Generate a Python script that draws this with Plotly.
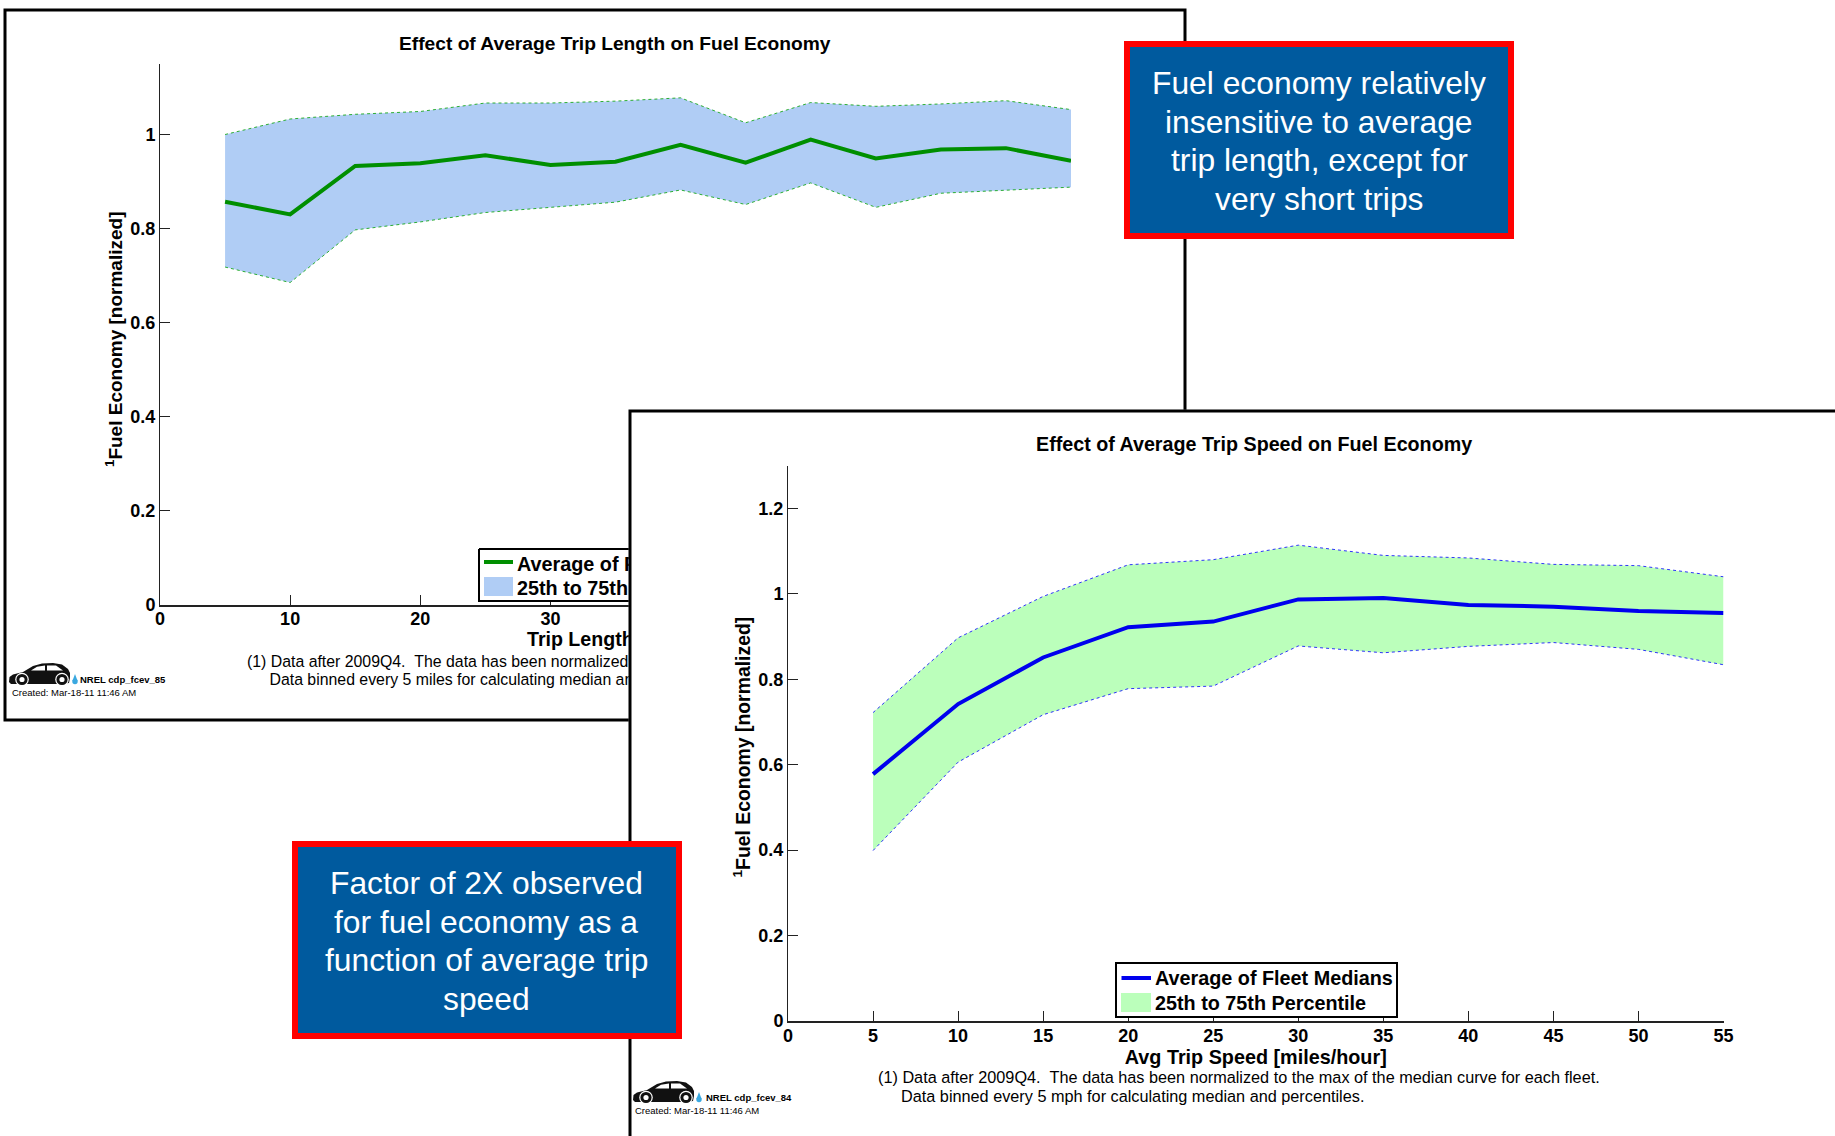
import plotly.graph_objects as go

W, H = 1835, 1136
FONT = "Liberation Sans"

# ---- data -------------------------------------------------------------
length_x = [5, 10, 15, 20, 25, 30, 35, 40, 45, 50, 55, 60, 65, 70]
length_median = [.858, .831, .934, .940, .957, .936, .943, .979, .941, .990, .950, .969, .972, .945]
length_p75 = [1.001, 1.034, 1.044, 1.050, 1.068, 1.068, 1.072, 1.079, 1.026, 1.069, 1.061, 1.066, 1.073, 1.054]
length_p25 = [.719, .686, .798, .815, .835, .846, .857, .883, .852, .898, .846, .876, .883, .889]

speed_x = [5, 10, 15, 20, 25, 30, 35, 40, 45, 50, 55]
speed_median = [.578, .742, .851, .922, .935, .987, .990, .974, .970, .960, .955]
speed_p75 = [.722, .897, .994, 1.068, 1.080, 1.114, 1.090, 1.084, 1.069, 1.066, 1.040]
speed_p25 = [.399, .606, .717, .778, .784, .878, .862, .877, .886, .870, .834]

length_xticks = [0, 10, 20, 30]
length_yticks = [0, 0.2, 0.4, 0.6, 0.8, 1]
speed_xticks = [0, 5, 10, 15, 20, 25, 30, 35, 40, 45, 50, 55]
speed_yticks = [0, 0.2, 0.4, 0.6, 0.8, 1, 1.2]

callout_length = ["Fuel economy relatively", "insensitive to average", "trip length, except for", "very short trips"]
callout_speed = ["Factor of 2X observed", "for fuel economy as a", "function of average trip", "speed"]


# ---- pixel helpers (page layout only) ---------------------------------
def px(x):
    return x / W


def py(y):
    return 1 - y / H


def text(s, x, y, size, bold=False, anchor="left", color="#000000", angle=0):
    if bold:
        s = "<b>" + s + "</b>"
    if anchor == "left":
        x, y = x - 2, y - 1
    return dict(text=s, xref="paper", yref="paper", x=px(x), y=py(y), showarrow=False, textangle=angle,
                xanchor=anchor, yanchor="middle", align=anchor,
                font=dict(family=FONT, size=size, color=color))


def rect(x0, y0, x1, y1, fill, line=None, lw=0, layer="above"):
    return dict(type="rect", xref="paper", yref="paper", x0=px(x0), x1=px(x1), y0=py(y0), y1=py(y1),
                fillcolor=fill, line=dict(color=line or fill, width=lw), layer=layer)


def hline(x0, x1, y, color, lw):
    return dict(type="line", xref="paper", yref="paper", x0=px(x0), x1=px(x1), y0=py(y), y1=py(y),
                line=dict(color=color, width=lw), layer="above")


def poly(points, fill):
    p = "M" + " L".join(f"{px(a):.5f},{py(b):.5f}" for a, b in points) + " Z"
    return dict(type="path", xref="paper", yref="paper", path=p, fillcolor=fill,
                line=dict(color=fill, width=0), layer="above")


def circle(cx, cy, r, fill):
    return dict(type="circle", xref="paper", yref="paper", x0=px(cx - r), x1=px(cx + r),
                y0=py(cy + r), y1=py(cy - r), fillcolor=fill, line=dict(color=fill, width=0), layer="above")


def car(ox, oy):
    body = [(0, 19), (0.5, 14), (4, 11.5), (14, 9), (24, 3), (33, 0.5), (44, 0), (53, 1.5), (59, 6), (61, 10),
            (61, 15), (60, 20), (52, 21), (14, 21), (2, 21)]
    win1 = [(22, 7.5), (28, 3.8), (36, 2.6), (36, 7.5)]
    win2 = [(38, 2.4), (47, 2.6), (54, 7.5), (38, 7.5)]
    drop = [(66, 11), (68.6, 18), (63.4, 18)]
    return [poly([(ox + a, oy + b) for a, b in body], "#111111"),
            poly([(ox + a, oy + b) for a, b in win1], "#ffffff"),
            poly([(ox + a, oy + b) for a, b in win2], "#ffffff"),
            circle(ox + 13, oy + 16.5, 6.8, "#ffffff"), circle(ox + 13, oy + 16.5, 5.6, "#111111"),
            circle(ox + 13, oy + 16.5, 2.6, "#ffffff"),
            circle(ox + 53, oy + 16.5, 6.8, "#ffffff"), circle(ox + 53, oy + 16.5, 5.6, "#111111"),
            circle(ox + 53, oy + 16.5, 2.6, "#ffffff"),
            poly([(ox + a, oy + b) for a, b in drop], "#3aa8e0"), circle(ox + 66, oy + 18.5, 2.7, "#3aa8e0")]


# ---- traces -----------------------------------------------------------
fig = go.Figure()


def band(x, lo, hi, med, edge, fill, main, xa, ya):
    fig.add_trace(go.Scatter(x=x, y=lo, mode="lines", xaxis=xa, yaxis=ya, showlegend=False,
                             line=dict(color=edge, width=0.8, dash="dot")))
    fig.add_trace(go.Scatter(x=x, y=hi, mode="lines", xaxis=xa, yaxis=ya, showlegend=False, fill="tonexty",
                             fillcolor=fill, name="25th to 75th Percentile",
                             line=dict(color=edge, width=0.8, dash="dot")))
    fig.add_trace(go.Scatter(x=x, y=med, mode="lines", xaxis=xa, yaxis=ya, showlegend=False,
                             name="Average of Fleet Medians", line=dict(color=main, width=4)))


def covered_text(s, x, y, size, weight=400):
    """Text in a page-sized subplot under the second chart's sheet, so that the sheet really cuts it off."""
    fig.add_trace(go.Scatter(x=[x], y=[y], mode="text", text=[s], textposition="middle right",
                             cliponaxis=False, showlegend=False, hoverinfo="skip", xaxis="x2", yaxis="y2",
                             textfont=dict(family=FONT, size=size, color="#000000", weight=weight)))


band(length_x, length_p25, length_p75, length_median, "#00a000", "#b0cdf5", "#008f00", "x", "y")
# legend box of the first chart: in the page-sized subplot, running under the second chart's sheet
fig.add_trace(go.Scatter(x=[479, 650, 650, 479, 479], y=[549, 549, 601, 601, 549],
                         mode="lines", fill="toself", fillcolor="#ffffff", line=dict(color="#000000", width=2),
                         showlegend=False, hoverinfo="skip", xaxis="x2", yaxis="y2"))
covered_text("Average of F", 517, 566, 19.8, 700)
covered_text("25th to 75th", 517, 590, 19.8, 700)
covered_text("Trip Length", 527, 641.5, 19.6, 700)
covered_text("(1) Data after 2009Q4.\u00a0\u00a0The data has been normalized", 247, 663, 15.85)
covered_text("Data binned every 5 miles for calculating median an", 269.5, 681, 15.85)
# empty subplot between the two charts: its white sheet hides the lower part of the first chart
fig.add_trace(go.Scatter(x=[None], y=[None], xaxis="x3", yaxis="y3", showlegend=False))
band(speed_x, speed_p25, speed_p75, speed_median, "#0000ff", "#bbffbb", "#0000ee", "x4", "y4")

tickfont = dict(family=FONT, size=18, color="#000000", weight=700)
titlefont = dict(family=FONT, size=19, color="#000000", weight=700)
AX = dict(showgrid=False, zeroline=False, showline=True, ticks="inside", ticklen=10, tickwidth=1,
          tickcolor="#222222", tickfont=tickfont, linecolor="#222222", automargin=False)

shapes = [
    # outer sheet of the first chart
    rect(5, 10, 1185, 720, "#ffffff", "#000000", 3, layer="below"),
    # white sheet of the second chart, drawn in the hidden subplot
    dict(type="rect", xref="x3", yref="y3", x0=0, x1=2, y0=-1, y1=1, fillcolor="#ffffff",
         line=dict(color="#000000", width=6), layer="below"),
    # legend swatches of the first chart
    hline(484, 513, 562, "#008f00", 4),
    rect(484, 577, 513, 596, "#b0cdf5"),
    # legend of the second chart
    rect(1116, 963, 1397, 1017, "#ffffff", "#000000", 2),
    hline(1121.5, 1151, 978, "#0000ee", 4),
    rect(1121, 993, 1151, 1012, "#bbffbb"),
]
shapes += car(9, 663) + car(633, 1081)
shapes += [
    rect(1127, 44, 1511, 236, "#005a9e", "#ff0000", 6),
    rect(295, 844, 679, 1036, "#005a9e", "#ff0000", 6),
]

annotations = [
    text("Effect of Average Trip Length on Fuel Economy", 614.5, 43, 19.2, True, "center"),
    text("Effect of Average Trip Speed on Fuel Economy", 1254, 444, 19.7, True, "center"),
    text("<sup>1</sup>Fuel Economy [normalized]", 114, 339, 19, True, "center", angle=-90),
    text("<sup>1</sup>Fuel Economy [normalized]", 741, 747.5, 19.4, True, "center", angle=-90),
    text("Average of Fleet Medians", 1154.5, 979, 19.8, True),
    text("25th to 75th Percentile", 1154.5, 1004, 19.8, True),
    text("(1) Data after 2009Q4.\u00a0\u00a0The data has been normalized to the max of the median curve for each fleet.",
         878, 1078, 16.25),
    text("Data binned every 5 mph for calculating median and percentiles.", 900.5, 1097, 16.25),
    text("NREL cdp_fcev_85", 79.5, 680, 9.5, True),
    text("Created: Mar-18-11 11:46 AM", 12, 693, 9.5),
    text("NREL cdp_fcev_84", 705.5, 1098, 9.5, True),
    text("Created: Mar-18-11 11:46 AM", 635, 1111, 9.5),
]
for s, yy in zip(callout_length, [83, 122, 160, 199]):
    annotations.append(text(s, 1319, yy, 31.8, False, "center", "#ffffff"))
for s, yy in zip(callout_speed, [883, 922, 960, 999]):
    annotations.append(text(s, 486, yy, 31.8, False, "center", "#ffffff"))

fig.update_layout(
    width=W, height=H, margin=dict(l=0, r=0, t=0, b=0), paper_bgcolor="#ffffff", plot_bgcolor="rgba(0,0,0,0)",
    showlegend=False, shapes=shapes, annotations=annotations,
    xaxis=dict(AX, domain=[px(160), px(1071)], range=[0, 70], tickvals=length_xticks, anchor="y",
               linewidth=1.5, ticklabelstandoff=-3),
    yaxis=dict(AX, domain=[py(605), py(64)], range=[0, 1.151], tickvals=length_yticks, anchor="x", linewidth=1),
    xaxis2=dict(domain=[0, 1], range=[0, W], visible=False, anchor="y2", automargin=False),
    yaxis2=dict(domain=[0, 1], range=[H, 0], visible=False, anchor="x2", automargin=False),
    xaxis3=dict(domain=[px(628.5), 1], range=[0, 1], visible=False, anchor="y3", automargin=False),
    yaxis3=dict(domain=[0, py(409.5)], range=[0, 1], visible=False, anchor="x3", automargin=False),
    xaxis4=dict(AX, domain=[px(788), px(1723.5)], range=[0, 55], tickvals=speed_xticks, anchor="y4", linewidth=2,
                ticklabelstandoff=-3,
                title=dict(text="Avg Trip Speed [miles/hour]", font=dict(titlefont, size=19.8), standoff=2)),
    yaxis4=dict(AX, domain=[py(1021), py(465.7)], range=[0, 1.3], tickvals=speed_yticks, anchor="x4", linewidth=1),
)

fig.write_html("out.html", config=dict(displayModeBar=False),
               post_script="document.body.style.margin='0';")
